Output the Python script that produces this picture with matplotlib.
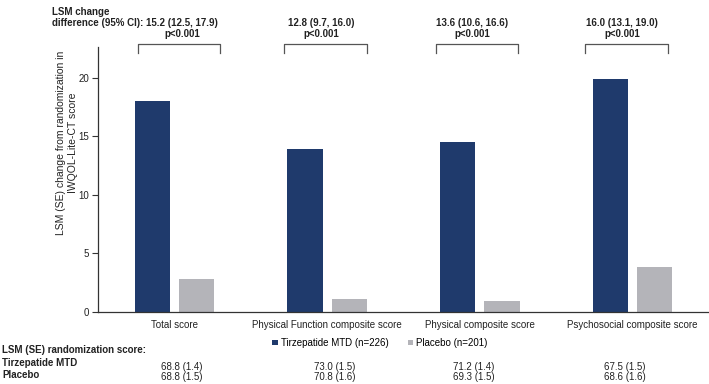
import matplotlib
matplotlib.use('Agg')
import matplotlib.pyplot as plt
import matplotlib.transforms as mtransforms
import numpy as np

plt.rcParams['font.family'] = ['Liberation Sans', 'DejaVu Sans']

categories = ['Total score', 'Physical Function composite score',
              'Physical composite score', 'Psychosocial composite score']
tirz_values = [18.0, 13.9, 14.5, 19.9]
placebo_values = [2.8, 1.1, 0.9, 3.8]
diff_labels = ['15.2 (12.5, 17.9)', '12.8 (9.7, 16.0)', '13.6 (10.6, 16.6)', '16.0 (13.1, 19.0)']
p_labels = ['p<0.001', 'p<0.001', 'p<0.001', 'p<0.001']
baseline_tirz = ['68.8 (1.4)', '73.0 (1.5)', '71.2 (1.4)', '67.5 (1.5)']
baseline_placebo = ['68.8 (1.5)', '70.8 (1.6)', '69.3 (1.5)', '68.6 (1.6)']
series_names = ['Tirzepatide MTD (n=226)', 'Placebo (n=201)']

navy = '#1f3a6c'
grey = '#b4b4b9'
fs = 7
txt = '#222222'

# small horizontal nudges (in category units) seen in the original layout
diff_shift = [0.05, -0.04, -0.05, -0.07]
bracket_shift = [0.03, -0.01, -0.02, -0.04]
table_shift = [0.05, 0.05, -0.04, -0.05]

fig = plt.figure(figsize=(7.09, 3.84), dpi=100)
W, H = 709, 384
ax = fig.add_axes([98 / W, 1 - 311.5 / H, 1 - 98 / W, (311.5 - 47) / H])

x = np.arange(len(categories))
off = 0.145
bw = 0.23
ax.bar(x - off, tirz_values, bw, color=navy, label=series_names[0])
ax.bar(x + off, placebo_values, bw, color=grey, label=series_names[1])

ax.set_xlim(-0.5, 3.5)
ax.set_ylim(0, 22.65)
ax.set_yticks([0, 5, 10, 15, 20])
ax.set_xticks(x)
ax.set_xticklabels(categories, fontsize=fs, color=txt)
ax.tick_params(axis='x', length=0, pad=6)
ax.tick_params(axis='y', labelsize=fs, length=4, width=0.8, pad=2.5,
               colors='#333333', labelcolor=txt)
for s in ['top', 'right']:
    ax.spines[s].set_visible(False)
for s in ['left', 'bottom']:
    ax.spines[s].set_color('#333333')
    ax.spines[s].set_linewidth(0.9)

# brackets over each pair
for i in range(len(categories)):
    c = i + bracket_shift[i]
    xl, xr = c - 0.27, c + 0.27
    ax.plot([xl, xl, xr, xr], [22.15, 22.9, 22.9, 22.15], color='#555555', lw=0.9,
            clip_on=False)

blend = mtransforms.blended_transform_factory(ax.transData, fig.transFigure)
for i in range(len(categories)):
    c = i + diff_shift[i]
    ax.text(c, 1 - 23 / H, diff_labels[i], transform=blend, ha='center', va='center',
            fontsize=fs, fontweight='bold', color=txt)
    ax.text(c, 1 - 34 / H, p_labels[i], transform=blend, ha='center', va='center',
            fontsize=fs, fontweight='bold', color=txt)
fig.text(52 / W, 1 - 12 / H, 'LSM change', ha='left', va='center', fontsize=fs,
         fontweight='bold', color=txt)
fig.text(52 / W, 1 - 23 / H, 'difference (95% CI):', ha='left', va='center', fontsize=fs,
         fontweight='bold', color=txt)

fig.text(67 / W, 1 - 143 / H, 'LSM (SE) change from randomization in\nIWQOL-Lite-CT score',
         rotation=90, ha='center', va='center', fontsize=7.5, color=txt,
         multialignment='center', linespacing=1.25)

# legend
ax.legend(loc='center', bbox_to_anchor=(380 / W, 1 - 343 / H), bbox_transform=fig.transFigure,
          ncol=2, frameon=False, fontsize=fs, handlelength=0.55, handleheight=0.55,
          handletextpad=0.3, columnspacing=2.0)

# randomization score table
fig.text(2 / W, 1 - 350 / H, 'LSM (SE) randomization score:', ha='left', va='center',
         fontsize=fs, fontweight='bold', color=txt)
fig.text(2 / W, 1 - 363 / H, 'Tirzepatide MTD', ha='left', va='center',
         fontsize=fs, fontweight='bold', color=txt)
fig.text(2 / W, 1 - 375 / H, 'Placebo', ha='left', va='center',
         fontsize=fs, fontweight='bold', color=txt)
for i in range(len(categories)):
    c = i + table_shift[i]
    ax.text(c, 1 - 367 / H, baseline_tirz[i], transform=blend, ha='center', va='center',
            fontsize=fs, color=txt)
    ax.text(c, 1 - 377 / H, baseline_placebo[i], transform=blend, ha='center', va='center',
            fontsize=fs, color=txt)

fig.savefig('out.png', dpi=100, facecolor='white')
